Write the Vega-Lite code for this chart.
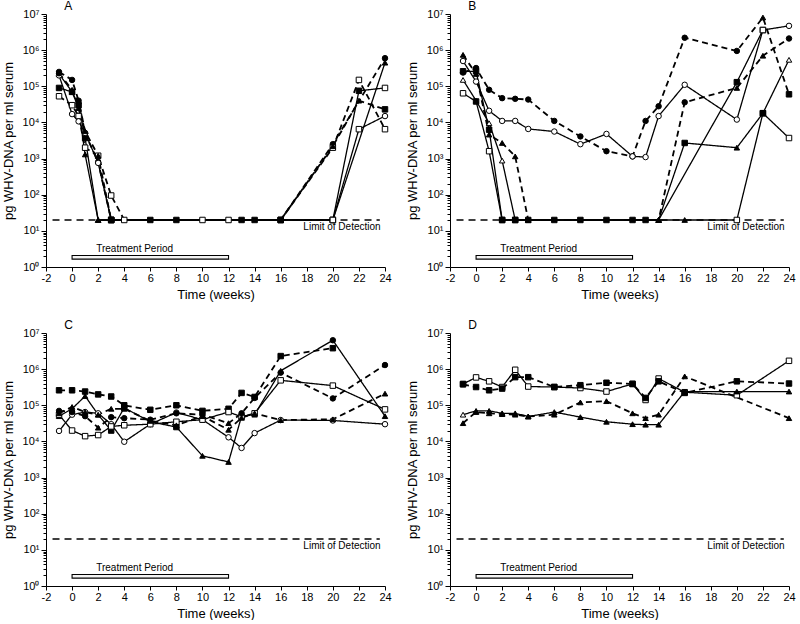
{
"$schema":"https://vega.github.io/schema/vega-lite/v6.json",
"padding":{"left":2,"top":0,"right":5,"bottom":0},
"background":"white",
"config":{"font":"Liberation Sans","view":{"stroke":null},"concat":{"spacing":14},
 "axis":{"domainColor":"black","tickColor":"black","labelColor":"black","titleColor":"black","grid":false,"labelFontSize":11,"titleFontSize":13,"titleFontWeight":"normal","labelFont":"Liberation Sans","titleFont":"Liberation Sans"},
 "axisX":{"values":[-2,-1,0,1,2,3,4,5,6,7,8,9,10,11,12,13,14,15,16,17,18,19,20,21,22,23,24],
    "labelExpr":"datum.value % 2 == 0 ? toString(datum.value) : ''","labelOverlap":false,
    "tickSize":{"condition":{"test":"datum.value % 2 == 0","value":4},"value":2.5},
    "labelPadding":1,"titlePadding":5,"labelFlush":false},
 "axisY":{"labelOverlap":false,"labelBound":false,"labelFlush":false,"titlePadding":7,
    "values":[1,2,3,4,5,6,7,8,9,10,20,30,40,50,60,70,80,90,100,200,300,400,500,600,700,800,900,1000,2000,3000,4000,5000,6000,7000,8000,9000,10000,20000,30000,40000,50000,60000,70000,80000,90000,100000,200000,300000,400000,500000,600000,700000,800000,900000,1000000,2000000,3000000,4000000,5000000,6000000,7000000,8000000,9000000,10000000],
    "labelExpr":"abs(log(datum.value)/LN10 - round(log(datum.value)/LN10)) < 0.001 ? '10' + ['⁰','¹','²','³','⁴','⁵','⁶','⁷'][round(log(datum.value)/LN10)] : ''",
    "tickSize":{"condition":{"test":"abs(log(datum.value)/LN10 - round(log(datum.value)/LN10)) < 0.001","value":5},"value":3}}},
"datasets":{"d":[
{"k":"lod","p":"A","t":-1.5,"t2":23.6,"v":20},{"k":"lod","p":"B","t":-1.5,"t2":23.6,"v":20},{"k":"lod","p":"C","t":-1.5,"t2":23.6,"v":20},{"k":"lod","p":"D","t":-1.5,"t2":23.6,"v":20},
{"k":"treat","p":"A","t":0,"t2":12,"v":1.65,"v2":2.08},{"k":"treat","p":"B","t":0,"t2":12,"v":1.65,"v2":2.08},{"k":"treat","p":"C","t":0,"t2":12,"v":1.65,"v2":2.08},{"k":"treat","p":"D","t":0,"t2":12,"v":1.65,"v2":2.08},
{"k":"txt","p":"A","t":4.8,"v":3.2,"label":"Treatment Period"},{"k":"txt","p":"B","t":4.8,"v":3.2,"label":"Treatment Period"},{"k":"txt","p":"C","t":4.8,"v":3.2,"label":"Treatment Period"},{"k":"txt","p":"D","t":4.8,"v":3.2,"label":"Treatment Period"},
{"k":"txt","p":"A","t":20.7,"v":12.5,"label":"Limit of Detection"},{"k":"txt","p":"B","t":20.7,"v":12.5,"label":"Limit of Detection"},{"k":"txt","p":"C","t":20.7,"v":12.5,"label":"Limit of Detection"},{"k":"txt","p":"D","t":20.7,"v":12.5,"label":"Limit of Detection"},
{"k":"letter","p":"A","t":-0.6,"v":10000000,"label":"A"},{"k":"letter","p":"B","t":-0.6,"v":10000000,"label":"B"},{"k":"letter","p":"C","t":-0.6,"v":10000000,"label":"C"},{"k":"letter","p":"D","t":-0.6,"v":10000000,"label":"D"},

{"k":"pt","p":"A","s":"A1","t":-1,"v":250000,"m":"circle","f":"filled","d":"dashed"},
{"k":"pt","p":"A","s":"A1","t":0,"v":150000,"m":"circle","f":"filled","d":"dashed"},
{"k":"pt","p":"A","s":"A1","t":0.5,"v":40000,"m":"circle","f":"filled","d":"dashed"},
{"k":"pt","p":"A","s":"A1","t":1,"v":5000,"m":"circle","f":"filled","d":"dashed"},
{"k":"pt","p":"A","s":"A1","t":2,"v":800,"m":"circle","f":"filled","d":"dashed"},
{"k":"pt","p":"A","s":"A1","t":3,"v":20,"m":"square","f":"filled","d":"dashed"},
{"k":"pt","p":"A","s":"A1","t":16,"v":20,"m":"square","f":"filled","d":"dashed"},
{"k":"pt","p":"A","s":"A1","t":20,"v":2500,"m":"circle","f":"filled","d":"dashed"},
{"k":"pt","p":"A","s":"A1","t":24,"v":600000,"m":"circle","f":"filled","d":"dashed"},
{"k":"pt","p":"A","s":"A2","t":-1,"v":220000,"m":"triangle","f":"filled","d":"solid"},
{"k":"pt","p":"A","s":"A2","t":0,"v":70000,"m":"triangle","f":"filled","d":"solid"},
{"k":"pt","p":"A","s":"A2","t":0.5,"v":25000,"m":"triangle","f":"filled","d":"solid"},
{"k":"pt","p":"A","s":"A2","t":1,"v":1300,"m":"triangle","f":"filled","d":"solid"},
{"k":"pt","p":"A","s":"A2","t":2,"v":20,"m":"triangle","f":"filled","d":"solid"},
{"k":"pt","p":"A","s":"A2","t":20,"v":20,"m":"square","f":"open","d":"solid"},
{"k":"pt","p":"A","s":"A2","t":24,"v":450000,"m":"triangle","f":"filled","d":"solid"},
{"k":"pt","p":"A","s":"A4","t":-1,"v":53000,"m":"square","f":"open","d":"dashed"},
{"k":"pt","p":"A","s":"A4","t":0,"v":30000,"m":"square","f":"open","d":"dashed"},
{"k":"pt","p":"A","s":"A4","t":0.5,"v":15000,"m":"square","f":"open","d":"dashed"},
{"k":"pt","p":"A","s":"A4","t":1,"v":2000,"m":"square","f":"open","d":"dashed"},
{"k":"pt","p":"A","s":"A4","t":2,"v":1200,"m":"square","f":"open","d":"dashed"},
{"k":"pt","p":"A","s":"A4","t":3,"v":95,"m":"square","f":"open","d":"dashed"},
{"k":"pt","p":"A","s":"A4","t":4,"v":20,"m":"square","f":"open","d":"dashed"},
{"k":"pt","p":"A","s":"A4","t":16,"v":20,"m":"square","f":"filled","d":"dashed"},
{"k":"pt","p":"A","s":"A4","t":20,"v":2000,"m":"square","f":"open","d":"dashed"},
{"k":"pt","p":"A","s":"A4","t":22,"v":150000,"m":"square","f":"open","d":"dashed"},
{"k":"pt","p":"A","s":"A4","t":24,"v":6500,"m":"square","f":"open","d":"dashed"},
{"k":"pt","p":"A","s":"A3","t":-1,"v":90000,"m":"square","f":"filled","d":"solid"},
{"k":"pt","p":"A","s":"A3","t":0,"v":70000,"m":"square","f":"filled","d":"solid"},
{"k":"pt","p":"A","s":"A3","t":0.5,"v":30000,"m":"square","f":"filled","d":"solid"},
{"k":"pt","p":"A","s":"A3","t":1,"v":3700,"m":"square","f":"filled","d":"solid"},
{"k":"pt","p":"A","s":"A3","t":2,"v":20,"m":"triangle","f":"filled","d":"solid"},
{"k":"pt","p":"A","s":"A3","t":3,"v":20,"m":"square","f":"filled","d":"solid"},
{"k":"pt","p":"A","s":"A3","t":6,"v":20,"m":"square","f":"filled","d":"solid"},
{"k":"pt","p":"A","s":"A3","t":8,"v":20,"m":"square","f":"filled","d":"solid"},
{"k":"pt","p":"A","s":"A3","t":10,"v":20,"m":"square","f":"open","d":"solid"},
{"k":"pt","p":"A","s":"A3","t":12,"v":20,"m":"square","f":"open","d":"solid"},
{"k":"pt","p":"A","s":"A3","t":13,"v":20,"m":"square","f":"filled","d":"solid"},
{"k":"pt","p":"A","s":"A3","t":14,"v":20,"m":"square","f":"filled","d":"solid"},
{"k":"pt","p":"A","s":"A3","t":20,"v":20,"m":"square","f":"open","d":"solid"},
{"k":"pt","p":"A","s":"A3","t":22,"v":75000,"m":"square","f":"filled","d":"solid"},
{"k":"pt","p":"A","s":"A3","t":24,"v":90000,"m":"square","f":"open","d":"solid"},
{"k":"pt","p":"A","s":"A5","t":-1,"v":200000,"m":"circle","f":"open","d":"solid"},
{"k":"pt","p":"A","s":"A5","t":0,"v":17000,"m":"circle","f":"open","d":"solid"},
{"k":"pt","p":"A","s":"A5","t":0.5,"v":10700,"m":"circle","f":"open","d":"solid"},
{"k":"pt","p":"A","s":"A5","t":1,"v":5100,"m":"circle","f":"open","d":"solid"},
{"k":"pt","p":"A","s":"A5","t":2,"v":760,"m":"circle","f":"open","d":"solid"},
{"k":"pt","p":"A","s":"A5","t":3,"v":20,"m":"square","f":"filled","d":"solid"},
{"k":"pt","p":"A","s":"A5","t":20,"v":20,"m":"square","f":"open","d":"solid"},
{"k":"pt","p":"A","s":"A5","t":22,"v":6500,"m":"square","f":"open","d":"solid"},
{"k":"pt","p":"A","s":"A5","t":24,"v":15000,"m":"circle","f":"open","d":"solid"},
{"k":"pt","p":"A","s":"A6","t":-1,"v":230000,"m":"circle","f":"filled","d":"dashed"},
{"k":"pt","p":"A","s":"A6","t":0,"v":80000,"m":"triangle","f":"filled","d":"dashed"},
{"k":"pt","p":"A","s":"A6","t":0.5,"v":39000,"m":"triangle","f":"filled","d":"dashed"},
{"k":"pt","p":"A","s":"A6","t":1,"v":5700,"m":"triangle","f":"filled","d":"dashed"},
{"k":"pt","p":"A","s":"A6","t":2,"v":1200,"m":"triangle","f":"filled","d":"dashed"},
{"k":"pt","p":"A","s":"A6","t":3,"v":20,"m":"square","f":"filled","d":"dashed"},
{"k":"pt","p":"A","s":"A6","t":16,"v":20,"m":"square","f":"filled","d":"dashed"},
{"k":"pt","p":"A","s":"A6","t":20,"v":2200,"m":"triangle","f":"filled","d":"dashed"},
{"k":"pt","p":"A","s":"A6","t":22,"v":40000,"m":"triangle","f":"filled","d":"dashed"},
{"k":"pt","p":"A","s":"A6","t":24,"v":23000,"m":"square","f":"filled","d":"dashed"},

{"k":"pt","p":"B","s":"B1","t":-1,"v":240000,"m":"circle","f":"filled","d":"dashed"},
{"k":"pt","p":"B","s":"B1","t":0,"v":320000,"m":"circle","f":"filled","d":"dashed"},
{"k":"pt","p":"B","s":"B1","t":1,"v":80000,"m":"circle","f":"filled","d":"dashed"},
{"k":"pt","p":"B","s":"B1","t":2,"v":47000,"m":"circle","f":"filled","d":"dashed"},
{"k":"pt","p":"B","s":"B1","t":3,"v":45000,"m":"circle","f":"filled","d":"dashed"},
{"k":"pt","p":"B","s":"B1","t":4,"v":43000,"m":"circle","f":"filled","d":"dashed"},
{"k":"pt","p":"B","s":"B1","t":6,"v":11000,"m":"circle","f":"filled","d":"dashed"},
{"k":"pt","p":"B","s":"B1","t":8,"v":4100,"m":"circle","f":"filled","d":"dashed"},
{"k":"pt","p":"B","s":"B1","t":10,"v":1600,"m":"circle","f":"filled","d":"dashed"},
{"k":"pt","p":"B","s":"B1","t":12,"v":1150,"m":"circle","f":"filled","d":"dashed"},
{"k":"pt","p":"B","s":"B1","t":13,"v":11000,"m":"circle","f":"filled","d":"dashed"},
{"k":"pt","p":"B","s":"B1","t":14,"v":28000,"m":"circle","f":"filled","d":"dashed"},
{"k":"pt","p":"B","s":"B1","t":16,"v":2200000,"m":"circle","f":"filled","d":"dashed"},
{"k":"pt","p":"B","s":"B1","t":20,"v":950000,"m":"circle","f":"filled","d":"dashed"},
{"k":"pt","p":"B","s":"B1","t":22,"v":8000000,"m":"triangle","f":"filled","d":"dashed"},
{"k":"pt","p":"B","s":"B1","t":24,"v":60000,"m":"square","f":"filled","d":"dashed"},
{"k":"pt","p":"B","s":"B2","t":-1,"v":500000,"m":"circle","f":"open","d":"solid"},
{"k":"pt","p":"B","s":"B2","t":0,"v":135000,"m":"circle","f":"open","d":"solid"},
{"k":"pt","p":"B","s":"B2","t":1,"v":21000,"m":"circle","f":"open","d":"solid"},
{"k":"pt","p":"B","s":"B2","t":2,"v":11000,"m":"circle","f":"open","d":"solid"},
{"k":"pt","p":"B","s":"B2","t":3,"v":11000,"m":"circle","f":"open","d":"solid"},
{"k":"pt","p":"B","s":"B2","t":4,"v":6600,"m":"circle","f":"open","d":"solid"},
{"k":"pt","p":"B","s":"B2","t":6,"v":5600,"m":"circle","f":"open","d":"solid"},
{"k":"pt","p":"B","s":"B2","t":8,"v":2500,"m":"circle","f":"open","d":"solid"},
{"k":"pt","p":"B","s":"B2","t":10,"v":4800,"m":"circle","f":"open","d":"solid"},
{"k":"pt","p":"B","s":"B2","t":12,"v":1150,"m":"circle","f":"open","d":"solid"},
{"k":"pt","p":"B","s":"B2","t":13,"v":1100,"m":"circle","f":"open","d":"solid"},
{"k":"pt","p":"B","s":"B2","t":14,"v":15000,"m":"circle","f":"open","d":"solid"},
{"k":"pt","p":"B","s":"B2","t":16,"v":110000,"m":"circle","f":"open","d":"solid"},
{"k":"pt","p":"B","s":"B2","t":20,"v":12000,"m":"circle","f":"open","d":"solid"},
{"k":"pt","p":"B","s":"B2","t":22,"v":3600000,"m":"square","f":"open","d":"solid"},
{"k":"pt","p":"B","s":"B2","t":24,"v":4700000,"m":"circle","f":"open","d":"solid"},
{"k":"pt","p":"B","s":"B3","t":-1,"v":740000,"m":"triangle","f":"filled","d":"dashed"},
{"k":"pt","p":"B","s":"B3","t":0,"v":220000,"m":"triangle","f":"filled","d":"dashed"},
{"k":"pt","p":"B","s":"B3","t":1,"v":4600,"m":"triangle","f":"filled","d":"dashed"},
{"k":"pt","p":"B","s":"B3","t":2,"v":2700,"m":"triangle","f":"filled","d":"dashed"},
{"k":"pt","p":"B","s":"B3","t":3,"v":1150,"m":"triangle","f":"filled","d":"dashed"},
{"k":"pt","p":"B","s":"B3","t":4,"v":20,"m":"triangle","f":"filled","d":"dashed"},
{"k":"pt","p":"B","s":"B3","t":14,"v":20,"m":"triangle","f":"filled","d":"dashed"},
{"k":"pt","p":"B","s":"B3","t":16,"v":36000,"m":"circle","f":"filled","d":"dashed"},
{"k":"pt","p":"B","s":"B3","t":20,"v":90000,"m":"triangle","f":"filled","d":"dashed"},
{"k":"pt","p":"B","s":"B3","t":22,"v":700000,"m":"triangle","f":"filled","d":"dashed"},
{"k":"pt","p":"B","s":"B3","t":24,"v":2100000,"m":"circle","f":"filled","d":"dashed"},
{"k":"pt","p":"B","s":"B4","t":-1,"v":150000,"m":"triangle","f":"open","d":"solid"},
{"k":"pt","p":"B","s":"B4","t":0,"v":40000,"m":"triangle","f":"open","d":"solid"},
{"k":"pt","p":"B","s":"B4","t":1,"v":9500,"m":"triangle","f":"open","d":"solid"},
{"k":"pt","p":"B","s":"B4","t":2,"v":880,"m":"triangle","f":"open","d":"solid"},
{"k":"pt","p":"B","s":"B4","t":3,"v":20,"m":"square","f":"filled","d":"solid"},
{"k":"pt","p":"B","s":"B4","t":14,"v":20,"m":"triangle","f":"filled","d":"solid"},
{"k":"pt","p":"B","s":"B4","t":16,"v":2700,"m":"square","f":"filled","d":"solid"},
{"k":"pt","p":"B","s":"B4","t":20,"v":2000,"m":"triangle","f":"filled","d":"solid"},
{"k":"pt","p":"B","s":"B4","t":22,"v":18000,"m":"square","f":"filled","d":"solid"},
{"k":"pt","p":"B","s":"B4","t":24,"v":3700,"m":"square","f":"open","d":"solid"},
{"k":"pt","p":"B","s":"B5","t":-1,"v":260000,"m":"square","f":"filled","d":"solid"},
{"k":"pt","p":"B","s":"B5","t":0,"v":260000,"m":"square","f":"filled","d":"solid"},
{"k":"pt","p":"B","s":"B5","t":1,"v":6300,"m":"square","f":"filled","d":"solid"},
{"k":"pt","p":"B","s":"B5","t":2,"v":20,"m":"square","f":"filled","d":"solid"},
{"k":"pt","p":"B","s":"B5","t":3,"v":20,"m":"square","f":"filled","d":"solid"},
{"k":"pt","p":"B","s":"B5","t":4,"v":20,"m":"square","f":"filled","d":"solid"},
{"k":"pt","p":"B","s":"B5","t":6,"v":20,"m":"square","f":"filled","d":"solid"},
{"k":"pt","p":"B","s":"B5","t":8,"v":20,"m":"square","f":"filled","d":"solid"},
{"k":"pt","p":"B","s":"B5","t":10,"v":20,"m":"square","f":"filled","d":"solid"},
{"k":"pt","p":"B","s":"B5","t":12,"v":20,"m":"square","f":"filled","d":"solid"},
{"k":"pt","p":"B","s":"B5","t":13,"v":20,"m":"square","f":"filled","d":"solid"},
{"k":"pt","p":"B","s":"B5","t":14,"v":20,"m":"triangle","f":"filled","d":"solid"},
{"k":"pt","p":"B","s":"B5","t":20,"v":130000,"m":"square","f":"filled","d":"solid"},
{"k":"pt","p":"B","s":"B5","t":22,"v":3600000,"m":"square","f":"open","d":"solid"},
{"k":"pt","p":"B","s":"B6","t":-1,"v":64000,"m":"square","f":"open","d":"solid"},
{"k":"pt","p":"B","s":"B6","t":0,"v":38000,"m":"square","f":"filled","d":"solid"},
{"k":"pt","p":"B","s":"B6","t":1,"v":1600,"m":"square","f":"open","d":"solid"},
{"k":"pt","p":"B","s":"B6","t":2,"v":20,"m":"square","f":"filled","d":"solid"},
{"k":"pt","p":"B","s":"B6","t":16,"v":20,"m":"triangle","f":"filled","d":"solid"},
{"k":"pt","p":"B","s":"B6","t":20,"v":20,"m":"square","f":"open","d":"solid"},
{"k":"pt","p":"B","s":"B6","t":22,"v":18000,"m":"square","f":"filled","d":"solid"},
{"k":"pt","p":"B","s":"B6","t":24,"v":540000,"m":"triangle","f":"open","d":"solid"},

{"k":"pt","p":"C","s":"C1","t":-1,"v":260000,"m":"square","f":"filled","d":"dashed"},
{"k":"pt","p":"C","s":"C1","t":0,"v":260000,"m":"square","f":"filled","d":"dashed"},
{"k":"pt","p":"C","s":"C1","t":1,"v":240000,"m":"square","f":"filled","d":"dashed"},
{"k":"pt","p":"C","s":"C1","t":2,"v":200000,"m":"square","f":"filled","d":"dashed"},
{"k":"pt","p":"C","s":"C1","t":3,"v":175000,"m":"square","f":"filled","d":"dashed"},
{"k":"pt","p":"C","s":"C1","t":4,"v":100000,"m":"square","f":"filled","d":"dashed"},
{"k":"pt","p":"C","s":"C1","t":6,"v":75000,"m":"square","f":"filled","d":"dashed"},
{"k":"pt","p":"C","s":"C1","t":8,"v":100000,"m":"square","f":"filled","d":"dashed"},
{"k":"pt","p":"C","s":"C1","t":10,"v":70000,"m":"square","f":"filled","d":"dashed"},
{"k":"pt","p":"C","s":"C1","t":12,"v":80000,"m":"square","f":"filled","d":"dashed"},
{"k":"pt","p":"C","s":"C1","t":13,"v":220000,"m":"square","f":"filled","d":"dashed"},
{"k":"pt","p":"C","s":"C1","t":14,"v":170000,"m":"square","f":"filled","d":"dashed"},
{"k":"pt","p":"C","s":"C1","t":16,"v":2300000,"m":"square","f":"filled","d":"dashed"},
{"k":"pt","p":"C","s":"C1","t":20,"v":3800000,"m":"square","f":"filled","d":"dashed"},
{"k":"pt","p":"C","s":"C2","t":-1,"v":50000,"m":"triangle","f":"filled","d":"solid"},
{"k":"pt","p":"C","s":"C2","t":0,"v":80000,"m":"triangle","f":"filled","d":"solid"},
{"k":"pt","p":"C","s":"C2","t":1,"v":180000,"m":"triangle","f":"filled","d":"solid"},
{"k":"pt","p":"C","s":"C2","t":2,"v":55000,"m":"triangle","f":"filled","d":"solid"},
{"k":"pt","p":"C","s":"C2","t":3,"v":20000,"m":"square","f":"filled","d":"solid"},
{"k":"pt","p":"C","s":"C2","t":4,"v":85000,"m":"square","f":"filled","d":"solid"},
{"k":"pt","p":"C","s":"C2","t":6,"v":35000,"m":"triangle","f":"filled","d":"solid"},
{"k":"pt","p":"C","s":"C2","t":8,"v":25000,"m":"square","f":"filled","d":"solid"},
{"k":"pt","p":"C","s":"C2","t":10,"v":4000,"m":"triangle","f":"filled","d":"solid"},
{"k":"pt","p":"C","s":"C2","t":12,"v":2700,"m":"triangle","f":"filled","d":"solid"},
{"k":"pt","p":"C","s":"C2","t":13,"v":50000,"m":"triangle","f":"filled","d":"solid"},
{"k":"pt","p":"C","s":"C2","t":14,"v":55000,"m":"triangle","f":"filled","d":"solid"},
{"k":"pt","p":"C","s":"C2","t":16,"v":900000,"m":"triangle","f":"filled","d":"solid"},
{"k":"pt","p":"C","s":"C2","t":20,"v":6300000,"m":"circle","f":"filled","d":"solid"},
{"k":"pt","p":"C","s":"C2","t":24,"v":50000,"m":"triangle","f":"filled","d":"solid"},
{"k":"pt","p":"C","s":"C3","t":-1,"v":19500,"m":"circle","f":"open","d":"solid"},
{"k":"pt","p":"C","s":"C3","t":0,"v":55000,"m":"circle","f":"open","d":"solid"},
{"k":"pt","p":"C","s":"C3","t":1,"v":65000,"m":"circle","f":"open","d":"solid"},
{"k":"pt","p":"C","s":"C3","t":2,"v":60000,"m":"circle","f":"open","d":"solid"},
{"k":"pt","p":"C","s":"C3","t":3,"v":30000,"m":"circle","f":"open","d":"solid"},
{"k":"pt","p":"C","s":"C3","t":4,"v":9800,"m":"circle","f":"open","d":"solid"},
{"k":"pt","p":"C","s":"C3","t":6,"v":30000,"m":"circle","f":"open","d":"solid"},
{"k":"pt","p":"C","s":"C3","t":8,"v":63000,"m":"circle","f":"open","d":"solid"},
{"k":"pt","p":"C","s":"C3","t":10,"v":40000,"m":"circle","f":"open","d":"solid"},
{"k":"pt","p":"C","s":"C3","t":12,"v":13000,"m":"circle","f":"open","d":"solid"},
{"k":"pt","p":"C","s":"C3","t":13,"v":6600,"m":"circle","f":"open","d":"solid"},
{"k":"pt","p":"C","s":"C3","t":14,"v":17000,"m":"circle","f":"open","d":"solid"},
{"k":"pt","p":"C","s":"C3","t":16,"v":39000,"m":"circle","f":"open","d":"solid"},
{"k":"pt","p":"C","s":"C3","t":20,"v":38000,"m":"circle","f":"open","d":"solid"},
{"k":"pt","p":"C","s":"C3","t":24,"v":30000,"m":"circle","f":"open","d":"solid"},
{"k":"pt","p":"C","s":"C4","t":-1,"v":55000,"m":"square","f":"open","d":"solid"},
{"k":"pt","p":"C","s":"C4","t":0,"v":20000,"m":"square","f":"open","d":"solid"},
{"k":"pt","p":"C","s":"C4","t":1,"v":14000,"m":"square","f":"open","d":"solid"},
{"k":"pt","p":"C","s":"C4","t":2,"v":15000,"m":"square","f":"open","d":"solid"},
{"k":"pt","p":"C","s":"C4","t":3,"v":26000,"m":"square","f":"open","d":"solid"},
{"k":"pt","p":"C","s":"C4","t":4,"v":28000,"m":"square","f":"open","d":"solid"},
{"k":"pt","p":"C","s":"C4","t":6,"v":30000,"m":"square","f":"open","d":"solid"},
{"k":"pt","p":"C","s":"C4","t":8,"v":35000,"m":"square","f":"open","d":"solid"},
{"k":"pt","p":"C","s":"C4","t":10,"v":40000,"m":"square","f":"open","d":"solid"},
{"k":"pt","p":"C","s":"C4","t":12,"v":65000,"m":"square","f":"open","d":"solid"},
{"k":"pt","p":"C","s":"C4","t":13,"v":48000,"m":"square","f":"open","d":"solid"},
{"k":"pt","p":"C","s":"C4","t":14,"v":60000,"m":"square","f":"open","d":"solid"},
{"k":"pt","p":"C","s":"C4","t":16,"v":490000,"m":"square","f":"open","d":"solid"},
{"k":"pt","p":"C","s":"C4","t":20,"v":350000,"m":"square","f":"open","d":"solid"},
{"k":"pt","p":"C","s":"C4","t":24,"v":77000,"m":"square","f":"open","d":"solid"},
{"k":"pt","p":"C","s":"C5","t":-1,"v":70000,"m":"circle","f":"filled","d":"dashed"},
{"k":"pt","p":"C","s":"C5","t":0,"v":65000,"m":"circle","f":"filled","d":"dashed"},
{"k":"pt","p":"C","s":"C5","t":1,"v":50000,"m":"circle","f":"filled","d":"dashed"},
{"k":"pt","p":"C","s":"C5","t":2,"v":24000,"m":"triangle","f":"filled","d":"dashed"},
{"k":"pt","p":"C","s":"C5","t":3,"v":47000,"m":"circle","f":"filled","d":"dashed"},
{"k":"pt","p":"C","s":"C5","t":4,"v":44000,"m":"circle","f":"filled","d":"dashed"},
{"k":"pt","p":"C","s":"C5","t":6,"v":40000,"m":"circle","f":"filled","d":"dashed"},
{"k":"pt","p":"C","s":"C5","t":8,"v":60000,"m":"circle","f":"filled","d":"dashed"},
{"k":"pt","p":"C","s":"C5","t":10,"v":55000,"m":"circle","f":"filled","d":"dashed"},
{"k":"pt","p":"C","s":"C5","t":12,"v":32000,"m":"triangle","f":"filled","d":"dashed"},
{"k":"pt","p":"C","s":"C5","t":13,"v":60000,"m":"circle","f":"filled","d":"dashed"},
{"k":"pt","p":"C","s":"C5","t":14,"v":160000,"m":"circle","f":"filled","d":"dashed"},
{"k":"pt","p":"C","s":"C5","t":16,"v":800000,"m":"circle","f":"filled","d":"dashed"},
{"k":"pt","p":"C","s":"C5","t":20,"v":155000,"m":"circle","f":"filled","d":"dashed"},
{"k":"pt","p":"C","s":"C5","t":24,"v":1300000,"m":"circle","f":"filled","d":"dashed"},
{"k":"pt","p":"C","s":"C6","t":-1,"v":60000,"m":"triangle","f":"filled","d":"dashed"},
{"k":"pt","p":"C","s":"C6","t":0,"v":90000,"m":"triangle","f":"filled","d":"dashed"},
{"k":"pt","p":"C","s":"C6","t":1,"v":65000,"m":"triangle","f":"filled","d":"dashed"},
{"k":"pt","p":"C","s":"C6","t":2,"v":55000,"m":"triangle","f":"filled","d":"dashed"},
{"k":"pt","p":"C","s":"C6","t":3,"v":80000,"m":"triangle","f":"filled","d":"dashed"},
{"k":"pt","p":"C","s":"C6","t":4,"v":80000,"m":"triangle","f":"filled","d":"dashed"},
{"k":"pt","p":"C","s":"C6","t":6,"v":37000,"m":"triangle","f":"filled","d":"dashed"},
{"k":"pt","p":"C","s":"C6","t":8,"v":28000,"m":"triangle","f":"filled","d":"dashed"},
{"k":"pt","p":"C","s":"C6","t":10,"v":50000,"m":"triangle","f":"filled","d":"dashed"},
{"k":"pt","p":"C","s":"C6","t":12,"v":21000,"m":"triangle","f":"filled","d":"dashed"},
{"k":"pt","p":"C","s":"C6","t":13,"v":45000,"m":"triangle","f":"filled","d":"dashed"},
{"k":"pt","p":"C","s":"C6","t":14,"v":60000,"m":"triangle","f":"filled","d":"dashed"},
{"k":"pt","p":"C","s":"C6","t":16,"v":39000,"m":"triangle","f":"filled","d":"dashed"},
{"k":"pt","p":"C","s":"C6","t":20,"v":41000,"m":"triangle","f":"filled","d":"dashed"},
{"k":"pt","p":"C","s":"C6","t":24,"v":210000,"m":"triangle","f":"filled","d":"dashed"},

{"k":"pt","p":"D","s":"D1","t":-1,"v":390000,"m":"square","f":"open","d":"solid"},
{"k":"pt","p":"D","s":"D1","t":0,"v":590000,"m":"square","f":"open","d":"solid"},
{"k":"pt","p":"D","s":"D1","t":1,"v":460000,"m":"square","f":"open","d":"solid"},
{"k":"pt","p":"D","s":"D1","t":2,"v":320000,"m":"square","f":"open","d":"solid"},
{"k":"pt","p":"D","s":"D1","t":3,"v":960000,"m":"square","f":"open","d":"solid"},
{"k":"pt","p":"D","s":"D1","t":4,"v":330000,"m":"square","f":"open","d":"solid"},
{"k":"pt","p":"D","s":"D1","t":6,"v":320000,"m":"square","f":"open","d":"solid"},
{"k":"pt","p":"D","s":"D1","t":8,"v":300000,"m":"square","f":"open","d":"solid"},
{"k":"pt","p":"D","s":"D1","t":10,"v":240000,"m":"square","f":"open","d":"solid"},
{"k":"pt","p":"D","s":"D1","t":12,"v":390000,"m":"square","f":"open","d":"solid"},
{"k":"pt","p":"D","s":"D1","t":13,"v":140000,"m":"square","f":"open","d":"solid"},
{"k":"pt","p":"D","s":"D1","t":14,"v":550000,"m":"square","f":"open","d":"solid"},
{"k":"pt","p":"D","s":"D1","t":16,"v":230000,"m":"square","f":"open","d":"solid"},
{"k":"pt","p":"D","s":"D1","t":20,"v":190000,"m":"square","f":"open","d":"solid"},
{"k":"pt","p":"D","s":"D1","t":24,"v":1700000,"m":"square","f":"open","d":"solid"},
{"k":"pt","p":"D","s":"D2","t":-1,"v":380000,"m":"square","f":"filled","d":"dashed"},
{"k":"pt","p":"D","s":"D2","t":0,"v":320000,"m":"square","f":"filled","d":"dashed"},
{"k":"pt","p":"D","s":"D2","t":1,"v":260000,"m":"square","f":"filled","d":"dashed"},
{"k":"pt","p":"D","s":"D2","t":2,"v":290000,"m":"square","f":"filled","d":"dashed"},
{"k":"pt","p":"D","s":"D2","t":3,"v":600000,"m":"square","f":"filled","d":"dashed"},
{"k":"pt","p":"D","s":"D2","t":4,"v":600000,"m":"square","f":"filled","d":"dashed"},
{"k":"pt","p":"D","s":"D2","t":6,"v":320000,"m":"square","f":"filled","d":"dashed"},
{"k":"pt","p":"D","s":"D2","t":8,"v":360000,"m":"square","f":"filled","d":"dashed"},
{"k":"pt","p":"D","s":"D2","t":10,"v":420000,"m":"square","f":"filled","d":"dashed"},
{"k":"pt","p":"D","s":"D2","t":12,"v":390000,"m":"square","f":"filled","d":"dashed"},
{"k":"pt","p":"D","s":"D2","t":13,"v":160000,"m":"square","f":"filled","d":"dashed"},
{"k":"pt","p":"D","s":"D2","t":14,"v":460000,"m":"square","f":"filled","d":"dashed"},
{"k":"pt","p":"D","s":"D2","t":16,"v":220000,"m":"square","f":"filled","d":"dashed"},
{"k":"pt","p":"D","s":"D2","t":20,"v":460000,"m":"square","f":"filled","d":"dashed"},
{"k":"pt","p":"D","s":"D2","t":24,"v":400000,"m":"square","f":"filled","d":"dashed"},
{"k":"pt","p":"D","s":"D3","t":-1,"v":32000,"m":"triangle","f":"filled","d":"dashed"},
{"k":"pt","p":"D","s":"D3","t":0,"v":65000,"m":"triangle","f":"filled","d":"dashed"},
{"k":"pt","p":"D","s":"D3","t":1,"v":60000,"m":"triangle","f":"filled","d":"dashed"},
{"k":"pt","p":"D","s":"D3","t":2,"v":57000,"m":"triangle","f":"filled","d":"dashed"},
{"k":"pt","p":"D","s":"D3","t":3,"v":55000,"m":"triangle","f":"filled","d":"dashed"},
{"k":"pt","p":"D","s":"D3","t":4,"v":49000,"m":"triangle","f":"filled","d":"dashed"},
{"k":"pt","p":"D","s":"D3","t":6,"v":55000,"m":"triangle","f":"filled","d":"dashed"},
{"k":"pt","p":"D","s":"D3","t":8,"v":120000,"m":"triangle","f":"filled","d":"dashed"},
{"k":"pt","p":"D","s":"D3","t":10,"v":130000,"m":"triangle","f":"filled","d":"dashed"},
{"k":"pt","p":"D","s":"D3","t":12,"v":60000,"m":"triangle","f":"filled","d":"dashed"},
{"k":"pt","p":"D","s":"D3","t":13,"v":44000,"m":"triangle","f":"filled","d":"dashed"},
{"k":"pt","p":"D","s":"D3","t":14,"v":55000,"m":"triangle","f":"filled","d":"dashed"},
{"k":"pt","p":"D","s":"D3","t":16,"v":630000,"m":"triangle","f":"filled","d":"dashed"},
{"k":"pt","p":"D","s":"D3","t":24,"v":44000,"m":"triangle","f":"filled","d":"dashed"},
{"k":"pt","p":"D","s":"D4","t":-1,"v":55000,"m":"triangle","f":"open","d":"solid"},
{"k":"pt","p":"D","s":"D4","t":0,"v":70000,"m":"triangle","f":"filled","d":"solid"},
{"k":"pt","p":"D","s":"D4","t":1,"v":70000,"m":"triangle","f":"filled","d":"solid"},
{"k":"pt","p":"D","s":"D4","t":2,"v":60000,"m":"triangle","f":"filled","d":"solid"},
{"k":"pt","p":"D","s":"D4","t":3,"v":60000,"m":"triangle","f":"filled","d":"solid"},
{"k":"pt","p":"D","s":"D4","t":4,"v":49000,"m":"triangle","f":"filled","d":"solid"},
{"k":"pt","p":"D","s":"D4","t":6,"v":65000,"m":"triangle","f":"filled","d":"solid"},
{"k":"pt","p":"D","s":"D4","t":8,"v":47000,"m":"triangle","f":"filled","d":"solid"},
{"k":"pt","p":"D","s":"D4","t":10,"v":35000,"m":"triangle","f":"filled","d":"solid"},
{"k":"pt","p":"D","s":"D4","t":12,"v":30000,"m":"triangle","f":"filled","d":"solid"},
{"k":"pt","p":"D","s":"D4","t":13,"v":29000,"m":"triangle","f":"filled","d":"solid"},
{"k":"pt","p":"D","s":"D4","t":14,"v":29000,"m":"triangle","f":"filled","d":"solid"},
{"k":"pt","p":"D","s":"D4","t":16,"v":240000,"m":"triangle","f":"filled","d":"solid"},
{"k":"pt","p":"D","s":"D4","t":20,"v":240000,"m":"triangle","f":"filled","d":"solid"},
{"k":"pt","p":"D","s":"D4","t":24,"v":240000,"m":"triangle","f":"filled","d":"solid"}
]},
"data":{"name":"d"},
"spacing":18,
"vconcat":[
{"hconcat":[
{"transform":[{"filter":"datum.p=='A'"}],"width":339,"height":253,
 "encoding":{"x":{"field":"t","type":"quantitative","scale":{"domain":[-2,24],"nice":false,"zero":false},"axis":{"title":"Time (weeks)"}},
  "y":{"field":"v","type":"quantitative","scale":{"type":"log","domain":[1,10000000],"nice":false},"axis":{"title":"pg WHV-DNA per ml serum"}}},
 "layer":[
  {"transform":[{"filter":"datum.k=='lod'"}],"mark":{"type":"rule","color":"black","strokeDash":[7,5],"strokeWidth":1.4},"encoding":{"x2":{"field":"t2"}}},
  {"transform":[{"filter":"datum.k=='treat'"}],"mark":{"type":"rect","fill":"#f4f4f4","stroke":"black","strokeWidth":1.1},"encoding":{"x2":{"field":"t2"},"y2":{"field":"v2"}}},
  {"transform":[{"filter":"datum.k=='txt'"}],"mark":{"type":"text","fontSize":10,"color":"black"},"encoding":{"text":{"field":"label"}}},
  {"transform":[{"filter":"datum.k=='letter'"}],"mark":{"type":"text","fontSize":12,"color":"black","align":"left","baseline":"bottom","dy":-1},"encoding":{"text":{"field":"label"}}},
  {"transform":[{"filter":"datum.k=='pt'"}],"mark":{"type":"line","color":"black"},"encoding":{"detail":{"field":"s"},
    "strokeDash":{"field":"d","type":"nominal","scale":{"domain":["solid","dashed"],"range":[[1,0],[6,4]]},"legend":null},
    "strokeWidth":{"field":"d","type":"nominal","scale":{"domain":["solid","dashed"],"range":[1.3,1.8]},"legend":null}}},
  {"transform":[{"filter":"datum.k=='pt'"}],"mark":{"type":"point","filled":true,"stroke":"black","strokeWidth":1,"size":30,"opacity":1},"encoding":{
    "shape":{"field":"m","type":"nominal","scale":{"domain":["circle","square","triangle"],"range":["circle","square","triangle-up"]},"legend":null},
    "fill":{"field":"f","type":"nominal","scale":{"domain":["filled","open"],"range":["black","white"]},"legend":null}}}
 ]},
{"transform":[{"filter":"datum.p=='B'"}],"width":339,"height":253,
 "encoding":{"x":{"field":"t","type":"quantitative","scale":{"domain":[-2,24],"nice":false,"zero":false},"axis":{"title":"Time (weeks)"}},
  "y":{"field":"v","type":"quantitative","scale":{"type":"log","domain":[1,10000000],"nice":false},"axis":{"title":"pg WHV-DNA per ml serum"}}},
 "layer":[
  {"transform":[{"filter":"datum.k=='lod'"}],"mark":{"type":"rule","color":"black","strokeDash":[7,5],"strokeWidth":1.4},"encoding":{"x2":{"field":"t2"}}},
  {"transform":[{"filter":"datum.k=='treat'"}],"mark":{"type":"rect","fill":"#f4f4f4","stroke":"black","strokeWidth":1.1},"encoding":{"x2":{"field":"t2"},"y2":{"field":"v2"}}},
  {"transform":[{"filter":"datum.k=='txt'"}],"mark":{"type":"text","fontSize":10,"color":"black"},"encoding":{"text":{"field":"label"}}},
  {"transform":[{"filter":"datum.k=='letter'"}],"mark":{"type":"text","fontSize":12,"color":"black","align":"left","baseline":"bottom","dy":-1},"encoding":{"text":{"field":"label"}}},
  {"transform":[{"filter":"datum.k=='pt'"}],"mark":{"type":"line","color":"black"},"encoding":{"detail":{"field":"s"},
    "strokeDash":{"field":"d","type":"nominal","scale":{"domain":["solid","dashed"],"range":[[1,0],[6,4]]},"legend":null},
    "strokeWidth":{"field":"d","type":"nominal","scale":{"domain":["solid","dashed"],"range":[1.3,1.8]},"legend":null}}},
  {"transform":[{"filter":"datum.k=='pt'"}],"mark":{"type":"point","filled":true,"stroke":"black","strokeWidth":1,"size":30,"opacity":1},"encoding":{
    "shape":{"field":"m","type":"nominal","scale":{"domain":["circle","square","triangle"],"range":["circle","square","triangle-up"]},"legend":null},
    "fill":{"field":"f","type":"nominal","scale":{"domain":["filled","open"],"range":["black","white"]},"legend":null}}}
 ]}
]},
{"hconcat":[
{"transform":[{"filter":"datum.p=='C'"}],"width":339,"height":253,
 "encoding":{"x":{"field":"t","type":"quantitative","scale":{"domain":[-2,24],"nice":false,"zero":false},"axis":{"title":"Time (weeks)"}},
  "y":{"field":"v","type":"quantitative","scale":{"type":"log","domain":[1,10000000],"nice":false},"axis":{"title":"pg WHV-DNA per ml serum"}}},
 "layer":[
  {"transform":[{"filter":"datum.k=='lod'"}],"mark":{"type":"rule","color":"black","strokeDash":[7,5],"strokeWidth":1.4},"encoding":{"x2":{"field":"t2"}}},
  {"transform":[{"filter":"datum.k=='treat'"}],"mark":{"type":"rect","fill":"#f4f4f4","stroke":"black","strokeWidth":1.1},"encoding":{"x2":{"field":"t2"},"y2":{"field":"v2"}}},
  {"transform":[{"filter":"datum.k=='txt'"}],"mark":{"type":"text","fontSize":10,"color":"black"},"encoding":{"text":{"field":"label"}}},
  {"transform":[{"filter":"datum.k=='letter'"}],"mark":{"type":"text","fontSize":12,"color":"black","align":"left","baseline":"bottom","dy":-1},"encoding":{"text":{"field":"label"}}},
  {"transform":[{"filter":"datum.k=='pt'"}],"mark":{"type":"line","color":"black"},"encoding":{"detail":{"field":"s"},
    "strokeDash":{"field":"d","type":"nominal","scale":{"domain":["solid","dashed"],"range":[[1,0],[6,4]]},"legend":null},
    "strokeWidth":{"field":"d","type":"nominal","scale":{"domain":["solid","dashed"],"range":[1.3,1.8]},"legend":null}}},
  {"transform":[{"filter":"datum.k=='pt'"}],"mark":{"type":"point","filled":true,"stroke":"black","strokeWidth":1,"size":30,"opacity":1},"encoding":{
    "shape":{"field":"m","type":"nominal","scale":{"domain":["circle","square","triangle"],"range":["circle","square","triangle-up"]},"legend":null},
    "fill":{"field":"f","type":"nominal","scale":{"domain":["filled","open"],"range":["black","white"]},"legend":null}}}
 ]},
{"transform":[{"filter":"datum.p=='D'"}],"width":339,"height":253,
 "encoding":{"x":{"field":"t","type":"quantitative","scale":{"domain":[-2,24],"nice":false,"zero":false},"axis":{"title":"Time (weeks)"}},
  "y":{"field":"v","type":"quantitative","scale":{"type":"log","domain":[1,10000000],"nice":false},"axis":{"title":"pg WHV-DNA per ml serum"}}},
 "layer":[
  {"transform":[{"filter":"datum.k=='lod'"}],"mark":{"type":"rule","color":"black","strokeDash":[7,5],"strokeWidth":1.4},"encoding":{"x2":{"field":"t2"}}},
  {"transform":[{"filter":"datum.k=='treat'"}],"mark":{"type":"rect","fill":"#f4f4f4","stroke":"black","strokeWidth":1.1},"encoding":{"x2":{"field":"t2"},"y2":{"field":"v2"}}},
  {"transform":[{"filter":"datum.k=='txt'"}],"mark":{"type":"text","fontSize":10,"color":"black"},"encoding":{"text":{"field":"label"}}},
  {"transform":[{"filter":"datum.k=='letter'"}],"mark":{"type":"text","fontSize":12,"color":"black","align":"left","baseline":"bottom","dy":-1},"encoding":{"text":{"field":"label"}}},
  {"transform":[{"filter":"datum.k=='pt'"}],"mark":{"type":"line","color":"black"},"encoding":{"detail":{"field":"s"},
    "strokeDash":{"field":"d","type":"nominal","scale":{"domain":["solid","dashed"],"range":[[1,0],[6,4]]},"legend":null},
    "strokeWidth":{"field":"d","type":"nominal","scale":{"domain":["solid","dashed"],"range":[1.3,1.8]},"legend":null}}},
  {"transform":[{"filter":"datum.k=='pt'"}],"mark":{"type":"point","filled":true,"stroke":"black","strokeWidth":1,"size":30,"opacity":1},"encoding":{
    "shape":{"field":"m","type":"nominal","scale":{"domain":["circle","square","triangle"],"range":["circle","square","triangle-up"]},"legend":null},
    "fill":{"field":"f","type":"nominal","scale":{"domain":["filled","open"],"range":["black","white"]},"legend":null}}}
 ]}
]}
]
}
